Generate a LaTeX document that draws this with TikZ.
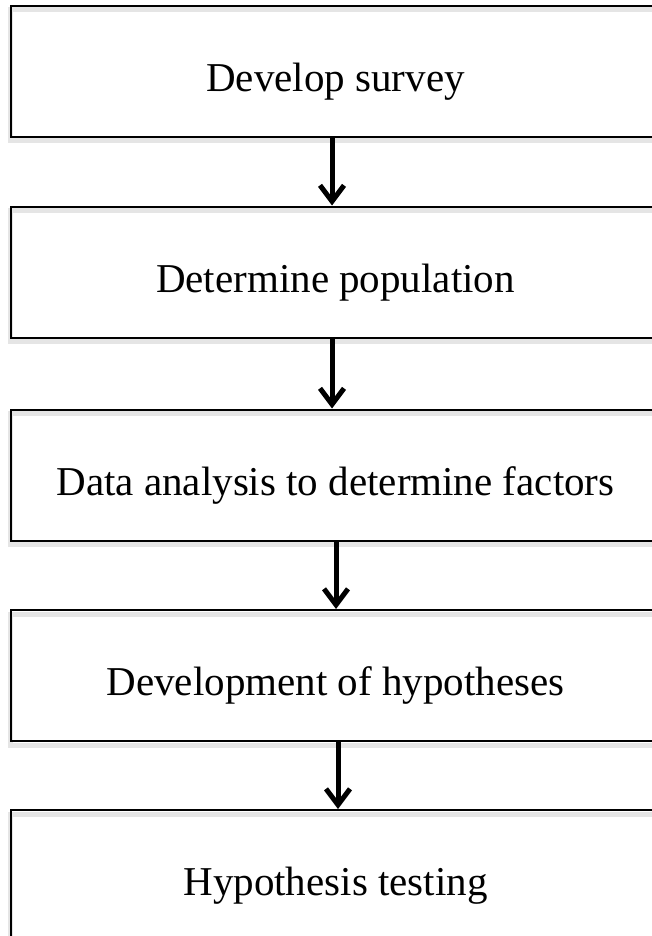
\documentclass[tikz,border=0pt]{standalone}
\usepackage{fontspec}
\setmainfont{Liberation Serif}
\usetikzlibrary{arrows.meta,shadows}
\begin{document}
\begin{tikzpicture}[x=1pt,y=-1pt,
  stepbox/.style={draw=black, line width=2pt, minimum width=649pt, minimum height=131pt,
    inner sep=0pt, text height=49pt, text depth=9pt, font=\fontsize{41}{49}\selectfont,
    drop shadow={shadow xshift=-1pt, shadow yshift=-4pt, fill=none, draw=black!10, line width=5pt, opacity=1}},
  flow/.style={line width=5pt, -{Straight Barb[length=16pt, width=24pt, line width=5pt]}}]
  \useasboundingbox (0,0) rectangle (651,936);
  \node[stepbox] (b1) at (335.5,71.5)  {Develop survey};
  \node[stepbox] (b2) at (335.5,272)   {Determine population};
  \node[stepbox] (b3) at (335.5,475)   {Data analysis to determine factors};
  \node[stepbox] (b4) at (335.5,675.5) {Development of hypotheses};
  \node[stepbox] (b5) at (335.5,875.5) {Hypothesis testing};
  \draw[flow] ([xshift=-3.5pt]b1.south) -- ([xshift=-3.5pt]b2.north);
  \draw[flow] ([xshift=-3.5pt]b2.south) -- ([xshift=-3.5pt]b3.north);
  \draw[flow] ([xshift=0.5pt]b3.south) -- ([xshift=0.5pt]b4.north);
  \draw[flow] ([xshift=2.5pt]b4.south) -- ([xshift=2.5pt]b5.north);
\end{tikzpicture}
\end{document}
